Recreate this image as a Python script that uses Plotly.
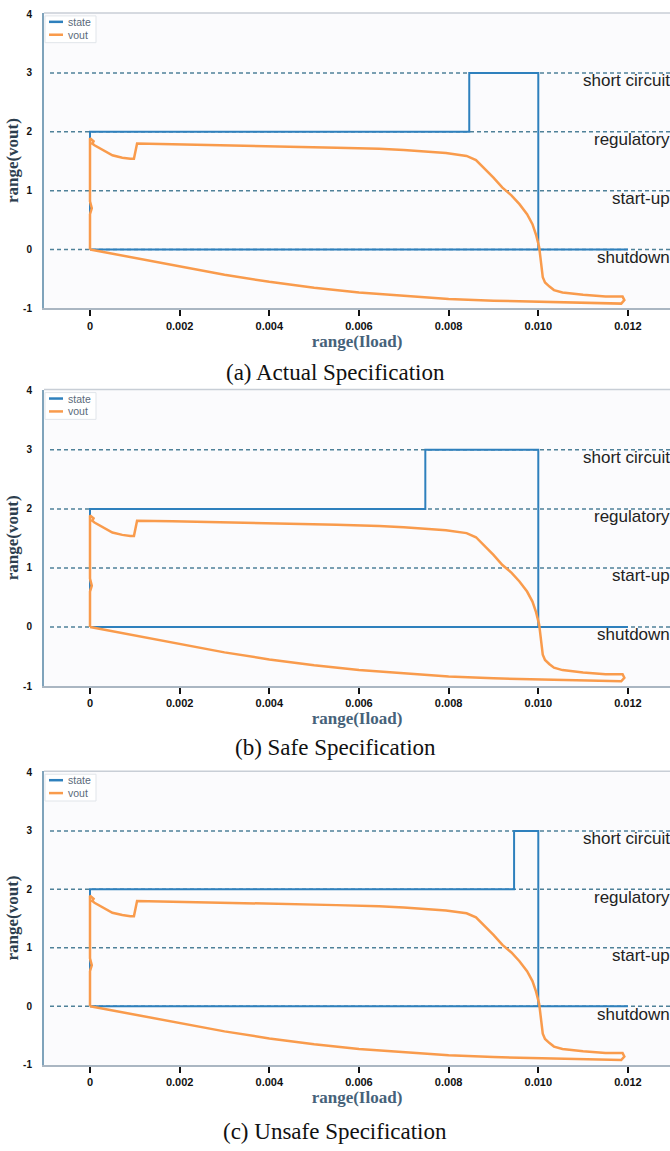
import plotly.graph_objects as go

# ---------------- data ----------------
x_tick_vals = [0, 0.002, 0.004, 0.006, 0.008, 0.010, 0.012]
x_tick_text = ["0", "0.002", "0.004", "0.006", "0.008", "0.010", "0.012"]
y_tick_vals = [-1, 0, 1, 2, 3, 4]
y_tick_text = ["-1", "0", "1", "2", "3", "4"]

state_levels = [3, 2, 1, 0]
state_names = ["short circuit", "regulatory", "start-up", "shutdown"]

# state path (Iload sweep forward at shutdown, then back through the states)
state_iload_a = [0, 0.012, 0.0100, 0.0100, 0.00846, 0.00846, 0, 0]
state_value_a = [0, 0, 0, 3, 3, 2, 2, 0]
state_iload_b = [0, 0.012, 0.0100, 0.0100, 0.00748, 0.00748, 0, 0]
state_value_b = [0, 0, 0, 3, 3, 2, 2, 0]
state_iload_c = [0, 0.012, 0.0100, 0.0100, 0.00946, 0.00946, 0, 0]
state_value_c = [0, 0, 0, 3, 3, 2, 2, 0]

# vout path: forward branch (low), hook at 0.012, return branch (high), vertical at 0
vout_iload = [0, 0.0005, 0.001, 0.0015, 0.002, 0.003, 0.004, 0.005, 0.006, 0.007,
              0.008, 0.009, 0.010, 0.011, 0.01185,
              0.01192, 0.01188,
              0.0115, 0.01129, 0.0110, 0.01054, 0.01035, 0.01025, 0.01015, 0.0101,
              0.01005, 0.01002, 0.00995, 0.00987, 0.00975, 0.00958, 0.0094, 0.0092,
              0.0090, 0.0088, 0.00861, 0.0084, 0.00794, 0.007, 0.00645, 0.0055,
              0.00445, 0.00333, 0.0025, 0.00184, 0.00105,
              0.00098, 0.0009, 0.00072, 0.0005, 0.00035, 0.0002, 0.0001, 0.00005,
              0.00008, 0.0, 0.0, 0.00004, 0.0, 0.0]
vout_value = [0, -0.07, -0.14, -0.22, -0.29, -0.43, -0.55, -0.65, -0.73, -0.79,
              -0.84, -0.87, -0.89, -0.91, -0.92,
              -0.86, -0.80,
              -0.80, -0.79, -0.77, -0.73, -0.69, -0.63, -0.56, -0.47,
              -0.2, 0.04, 0.25, 0.43, 0.6, 0.77, 0.92, 1.05,
              1.22, 1.38, 1.52, 1.59, 1.64, 1.69, 1.71, 1.73,
              1.75, 1.76, 1.78, 1.79, 1.80,
              1.54, 1.54, 1.56, 1.6, 1.66, 1.72, 1.77, 1.8,
              1.84, 1.89, 0.82, 0.7, 0.6, 0.0]

series_names = ["state", "vout"]
captions = ["(a) Actual Specification", "(b) Safe Specification", "(c) Unsafe Specification"]

# ---------------- style ----------------
BLUE = "#2e80bd"
ORANGE = "#f99b4c"
DASH = "#4f8199"
W, H = 670, 1151
x_dom = [44 / W, 1.0]
x_range = [-0.001026, 0.012938]
y_range = [-1, 4.02]
panels = [  # (top px, bottom px, caption centre px)
    (9, 307, 372),
    (389, 688, 750),
    (774, 1070, 1137),
]
states = [(state_iload_a, state_value_a), (state_iload_b, state_value_b),
          (state_iload_c, state_value_c)]


def px(xp):
    return xp / W


def py(yp):
    return 1 - yp / H


fig = go.Figure()
shapes, annotations = [], []
for i, ((top, bot, cap), (sx, sy)) in enumerate(zip(panels, states)):
    n = "" if i == 0 else str(i + 1)
    xa, ya = "x" + n, "y" + n
    fig.add_trace(go.Scatter(x=sx, y=sy, mode="lines", name=series_names[0],
                             line=dict(color=BLUE, width=2), xaxis=xa, yaxis=ya,
                             showlegend=False))
    fig.add_trace(go.Scatter(x=vout_iload, y=vout_value, mode="lines",
                             name=series_names[1],
                             line=dict(color=ORANGE, width=2.5), xaxis=xa, yaxis=ya,
                             showlegend=False))
    dom_y = [py(bot), py(top)]
    axis_common = dict(showgrid=False, zeroline=False)
    fig.update_layout(**{
        "xaxis" + n: dict(domain=x_dom, range=x_range, anchor=ya,
                          tickvals=x_tick_vals, ticktext=x_tick_text,
                          ticks="outside", ticklen=6, tickwidth=2, tickcolor="#111",
                          tickfont=dict(family="Liberation Sans", size=11, color="#111",
                                        weight="bold"),
                          showline=True, linecolor="#aab6c2", linewidth=2,
                          title=dict(text="range(Iload)", standoff=0,
                                     font=dict(family="Liberation Serif", size=17,
                                               color="#46627a", weight="bold")),
                          **axis_common),
        "yaxis" + n: dict(domain=dom_y, range=y_range, anchor=xa,
                          tickvals=y_tick_vals, ticktext=y_tick_text,
                          ticks="", ticklabelstandoff=8,
                          tickfont=dict(family="Liberation Sans", size=10, color="#111",
                                        weight="bold"),
                          showline=True, linecolor="#7fa3bb", linewidth=2,
                          title=dict(text="range(vout)", standoff=0,
                                     font=dict(family="Liberation Serif", size=17,
                                               color="#2d3e4e", weight="bold")),
                          **axis_common),
    })
    # top border of plot area
    shapes.append(dict(type="line", xref=xa + " domain", yref=ya + " domain",
                       x0=0, x1=1, y0=1, y1=1, line=dict(color="#c8ced6", width=1.5),
                       layer="below"))
    for lev, name in zip(state_levels, state_names):
        shapes.append(dict(type="line", xref=xa + " domain", yref=ya,
                           x0=0.0096, x1=1, y0=lev, y1=lev,
                           line=dict(color=DASH, width=1.5, dash="4px,3px"),
                           layer="below"))
        annotations.append(dict(xref=xa + " domain", yref=ya, x=1.0, y=lev,
                                xanchor="right", yanchor="middle", yshift=-8,
                                xshift=2, text=name, showarrow=False,
                                font=dict(family="Liberation Sans", size=17,
                                          color="#222")))
    # small legend box (top-left inside the plot)
    shapes.append(dict(type="rect", xref="paper", yref="paper",
                       x0=px(45), x1=px(96), y0=py(top + 30), y1=py(top + 3),
                       line=dict(color="#e1e5ea", width=1),
                       fillcolor="rgba(255,255,255,0.85)"))
    for k, (nm, col) in enumerate(zip(series_names, [BLUE, ORANGE])):
        yy = top + 9 + 13 * k
        shapes.append(dict(type="line", xref="paper", yref="paper",
                           x0=px(49), x1=px(63), y0=py(yy), y1=py(yy),
                           line=dict(color=col, width=2.5)))
        annotations.append(dict(xref="paper", yref="paper", x=px(66), y=py(yy),
                                xanchor="left", yanchor="middle", text=nm,
                                showarrow=False,
                                font=dict(family="Liberation Sans", size=10.5,
                                          color="#5a6a7a")))
    annotations.append(dict(xref="paper", yref="paper", x=0.5, y=py(cap),
                            xanchor="center", yanchor="middle", text=captions[i],
                            showarrow=False,
                            font=dict(family="Liberation Serif", size=23, color="#111")))

fig.update_layout(width=W, height=H, margin=dict(l=0, r=0, t=0, b=0),
                  paper_bgcolor="white", plot_bgcolor="#fbfbfd",
                  shapes=shapes, annotations=annotations, showlegend=False)

fig.write_html("out.html", config={"displayModeBar": False},
               post_script="document.body.style.margin='0px';"
                           "document.body.style.overflow='hidden';")
